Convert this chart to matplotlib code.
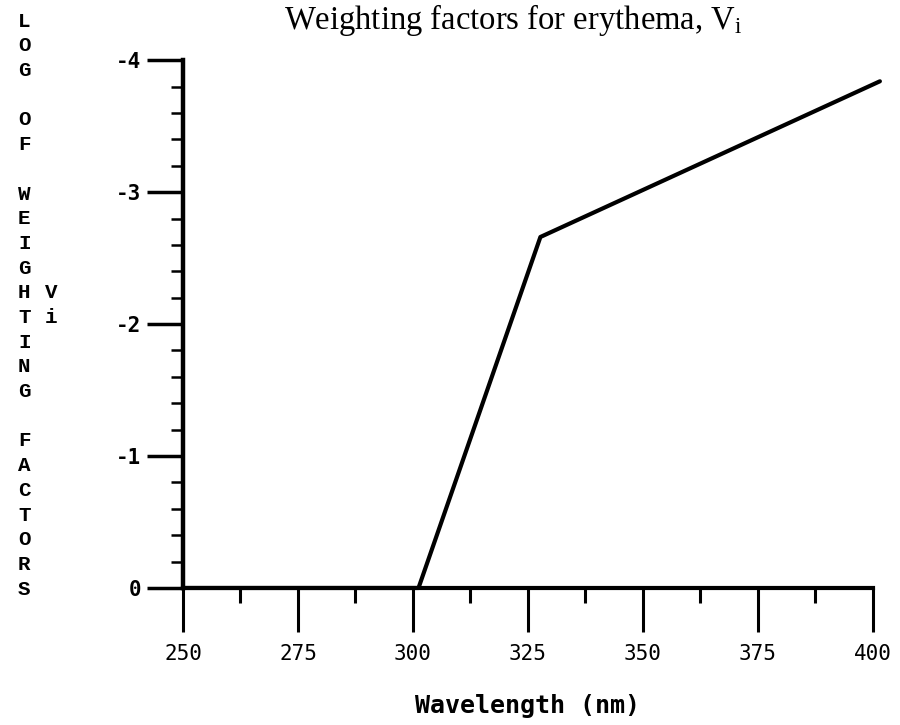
import matplotlib
matplotlib.use('Agg')
import matplotlib.pyplot as plt
from matplotlib.ticker import MultipleLocator

# values
wavelength = [250, 301.2, 327.7, 401.5]
log_weight = [0, 0, -2.66, -3.84]

x_ticks = [250, 275, 300, 325, 350, 375, 400]
x_tick_labels = ['250', '275', '300', '325', '350', '375', '400']
y_ticks = [0, -1, -2, -3, -4]
y_tick_labels = ['0', '-1', '-2', '-3', '-4']

ylabel_words = ['LOG', 'OF', 'WEIGHTING', 'FACTORS']

plt.rcParams['mathtext.fontset'] = 'custom'
plt.rcParams['mathtext.rm'] = 'Liberation Serif'

fig = plt.figure(figsize=(9, 7.25), dpi=100)
ax = fig.add_axes([0.2033, 0.189, 0.7667, 0.728])

ax.plot(wavelength, log_weight, color='black', lw=3, clip_on=False,
        solid_joinstyle='round', solid_capstyle='round')

ax.set_xlim(250, 400)
ax.set_ylim(0, -4)

for s in ['top', 'right']:
    ax.spines[s].set_visible(False)
ax.spines['left'].set_linewidth(3.2)
ax.spines['bottom'].set_linewidth(3)

ax.set_xticks(x_ticks)
ax.set_xticklabels(x_tick_labels, family='DejaVu Sans Mono', fontsize=15)
ax.xaxis.set_minor_locator(MultipleLocator(12.5))
ax.set_yticks(y_ticks)
ax.set_yticklabels(y_tick_labels, family='DejaVu Sans Mono', fontsize=15, weight='bold')
ax.yaxis.set_minor_locator(MultipleLocator(0.2))

ax.tick_params(axis='x', which='major', direction='out', length=32, width=2.2, pad=8)
ax.tick_params(axis='x', which='minor', direction='out', length=11, width=2.2)
ax.tick_params(axis='y', which='major', direction='out', length=26, width=2.5, pad=4)
ax.tick_params(axis='y', which='minor', direction='out', length=9, width=1.8)

ax.set_xlabel('Wavelength (nm)', family='DejaVu Sans Mono', fontsize=18,
              weight='bold', labelpad=22)

fig.text(0.57, 0.973, r'Weighting factors for erythema, $\mathrm{V_i}$',
         family='Liberation Serif', fontsize=23.5, ha='center', va='center')

# stacked vertical axis label, "Vi" sits on the H/T rows
stacked = '\n\n'.join('\n'.join(w) for w in ylabel_words)
fig.text(0.027, 0.984, stacked, family='Liberation Mono', weight='bold',
         fontsize=15, ha='center', va='top', linespacing=1.38)
fig.text(0.057, 0.984, '\n' * 11 + 'V\ni', family='Liberation Mono', weight='bold',
         fontsize=15, ha='center', va='top', linespacing=1.38)

fig.savefig('out.png', dpi=100)
